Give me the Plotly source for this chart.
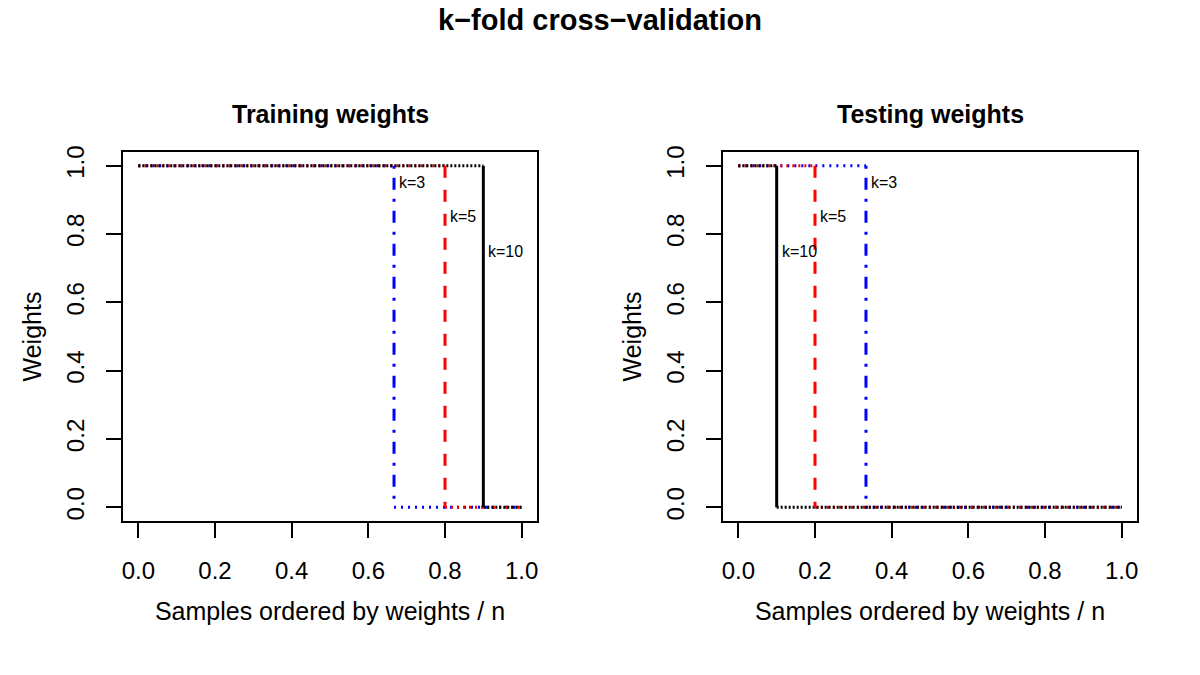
import plotly.graph_objects as go

# ---- data ----
k_labels = ["k=3", "k=5", "k=10"]
train_split = [0.667, 0.8, 0.9]      # share of samples with weight 1 (training)
test_split = [0.333, 0.2, 0.1]       # share of samples with weight 1 (testing)
weight_high = 1.0
weight_low = 0.0
tick_vals = [0.0, 0.2, 0.4, 0.6, 0.8, 1.0]

# ---- styles ----
colors = ["#0000FF", "#FF0000", "#000000"]
vdash = ["3px,9px,12px,9px", "12px,12px", "solid"]
hdash = ["2px,5px", "2px,4px", "2px,2px"]
label_y = [0.95, 0.85, 0.75]
FONT = "Liberation Sans, Arial, Helvetica, sans-serif"

fig = go.Figure()

panels = [("x", "y", train_split), ("x2", "y2", test_split)]
for xa, ya, splits in panels:
    # horizontal parts (fine dotted look)
    for i, s in enumerate(splits):
        fig.add_trace(go.Scatter(
            x=[0, s, None, s, 1],
            y=[weight_high, weight_high, None, weight_low, weight_low],
            mode="lines", xaxis=xa, yaxis=ya, showlegend=False,
            line=dict(color=colors[i], width=3, dash=hdash[i]),
            hoverinfo="skip"))
    # vertical drops
    for i, s in enumerate(splits):
        fig.add_trace(go.Scatter(
            x=[s, s], y=[weight_high, weight_low],
            mode="lines", xaxis=xa, yaxis=ya, showlegend=False,
            line=dict(color=colors[i], width=3, dash=vdash[i])))
    for i, s in enumerate(splits):
        fig.add_annotation(x=s, y=label_y[i], xref=xa, yref=ya, text=k_labels[i],
                           showarrow=False, xanchor="left", xshift=3,
                           font=dict(size=16, color="black", family=FONT))

ax_common = dict(showgrid=False, zeroline=False, showline=True, mirror=True,
                 linecolor="black", linewidth=1.5, ticks="outside", ticklen=15,
                 tickwidth=1.5, tickcolor="black", tickvals=tick_vals,
                 tickformat=".1f", automargin=False,
                 tickfont=dict(size=24, color="black", family=FONT))

xa = dict(ax_common, range=[-0.04, 1.04], ticklabelstandoff=12)
ya = dict(ax_common, range=[-0.04, 1.04], tickangle=-90, ticklabelstandoff=13)

fig.update_layout(
    width=1200, height=675,
    margin=dict(l=0, r=0, t=0, b=0),
    paper_bgcolor="white", plot_bgcolor="white",
    font=dict(family=FONT, color="black"),
    xaxis=dict(xa, domain=[0.1025, 0.4475], anchor="y",
               title=dict(text="Samples ordered by weights / n", font=dict(size=25), standoff=20)),
    yaxis=dict(ya, domain=[0.2281, 0.7748], anchor="x",
               title=dict(text="Weights", font=dict(size=25), standoff=13)),
    xaxis2=dict(xa, domain=[0.6025, 0.9475], anchor="y2",
                title=dict(text="Samples ordered by weights / n", font=dict(size=25), standoff=20)),
    yaxis2=dict(ya, domain=[0.2281, 0.7748], anchor="x2",
                title=dict(text="Weights", font=dict(size=25), standoff=13)),
)

fig.add_annotation(text="<b>k−fold cross−validation</b>", x=0.5, y=1 - 20 / 675,
                   xref="paper", yref="paper", showarrow=False, yanchor="middle",
                   xanchor="center", font=dict(size=29, family=FONT, color="black"))
fig.add_annotation(text="<b>Training weights</b>", x=(123 + 537) / 2 / 1200, y=1 - 114 / 675,
                   xref="paper", yref="paper", showarrow=False, yanchor="middle",
                   xanchor="center", font=dict(size=25, family=FONT, color="black"))
fig.add_annotation(text="<b>Testing weights</b>", x=(723 + 1137) / 2 / 1200, y=1 - 114 / 675,
                   xref="paper", yref="paper", showarrow=False, yanchor="middle",
                   xanchor="center", font=dict(size=25, family=FONT, color="black"))

fig.write_html("out.html")
